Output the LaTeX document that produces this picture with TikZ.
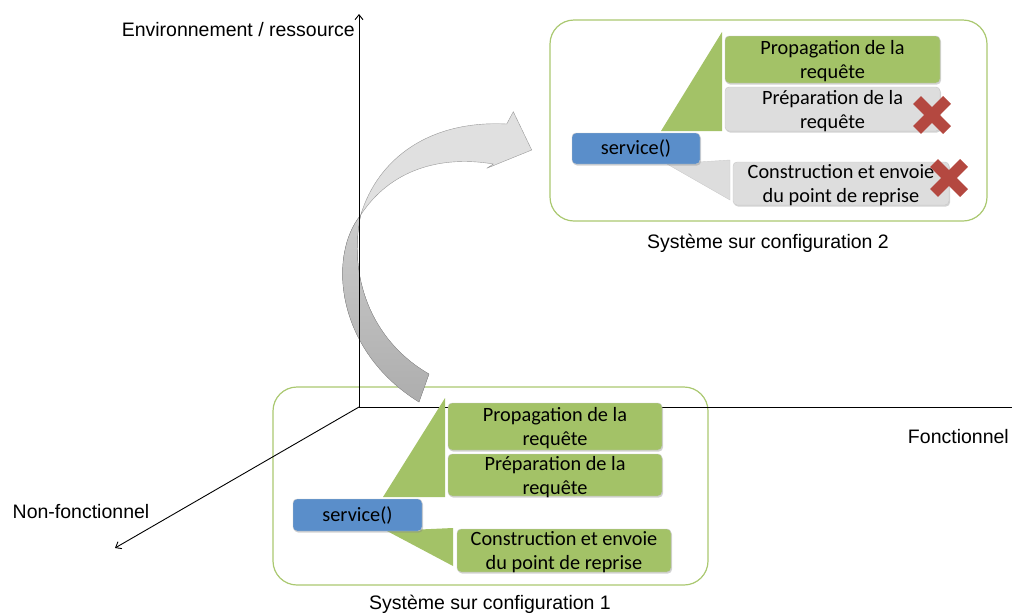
\documentclass[tikz,border=0pt]{standalone}
\usepackage{fontspec}
\setmainfont{Liberation Sans}
\newfontfamily\boxfont{Carlito}
\usetikzlibrary{shadows,arrows.meta}
\definecolor{okgreen}{RGB}{163,194,103}
\definecolor{framegreen}{RGB}{170,200,112}
\definecolor{svcblue}{RGB}{90,142,202}
\definecolor{skipgray}{RGB}{221,221,221}
\definecolor{crossred}{RGB}{180,72,64}

\tikzset{
  axis/.style={line width=0.9pt},
  axtip/.style={-{Straight Barb[length=5pt,width=8pt]}},
  axlabel/.style={inner sep=0pt, font=\fontsize{19.5}{23}\selectfont},
  cfgframe/.style={draw=framegreen, line width=1.2pt, rounded corners=24pt},
  task/.style={draw=black!22, rounded corners=4pt, inner sep=0pt, align=center,
    font=\boxfont\fontsize{20.3}{24}\selectfont,
    drop shadow={shadow xshift=1pt, shadow yshift=-1.5pt, opacity=.35}},
  done/.style={task, fill=okgreen},
  skipped/.style={task, fill=skipgray},
  svc/.style={task, fill=svcblue},
  failmark/.style={crossred, line width=11pt},
  lower/.style={text depth=-2pt},
}

\begin{document}
\begin{tikzpicture}[x=1pt,y=-1pt]
  \useasboundingbox (0,0) rectangle (1012,614);

  % frames
  \node[cfgframe, minimum width=435pt, minimum height=198pt] (frame1) at (490.5,486) {};
  \node[cfgframe, minimum width=437pt, minimum height=201pt] (frame2) at (768.5,120.5) {};
  \node[axlabel] (cfg1) at (490,604) {Système sur configuration 1};
  \node[axlabel] (cfg2) at (768,243) {Système sur configuration 2};

  % curved arrow
  \coordinate (twist) at (360.7,215);
  \coordinate (tailA) at (429,374);
  \coordinate (tailB) at (419,402);
  \filldraw[top color=black!20, bottom color=black!32, draw=black!40]
    (twist) .. controls (328,255) and (335,350) .. (tailB) -- (tailA)
    .. controls (370,340) and (348,275) .. (twist) -- cycle;
  \filldraw[fill=black!12, draw=black!40]
    (twist) .. controls (378,158) and (430,120) .. (506.7,124) -- (513.3,111.7)
    -- (531.7,150) -- (486.7,168.3) -- (493.3,164)
    .. controls (440,155) and (390,170) .. (twist) -- cycle;

  % axes
  \coordinate (origin) at (359,407);
  \coordinate (vtop) at (359,14);
  \coordinate (hend) at (1012,407);
  \coordinate (dend) at (115,548);
  \draw[axis,axtip] (origin) -- (vtop);
  \draw[axis] (origin) -- (hend);
  \draw[axis,axtip] (origin) -- (dend);
  \node[axlabel, anchor=east] (envlbl) at (355,30) {Environnement / ressource};
  \node[axlabel, anchor=east] (fctlbl) at (1009,437) {Fonctionnel};
  \node[axlabel] (nflbl) at (81,512) {Non-fonctionnel};

  % configuration 1
  \fill[okgreen] (383,497) -- (445,398) -- (445,497) -- cycle;
  \fill[okgreen] (387,531) -- (453,528) -- (453,566) -- cycle;
  \node[done, lower, minimum width=214pt, minimum height=47pt] (prop1) at (555,426.5) {Propagation de la\\requête};
  \node[done, lower, minimum width=214pt, minimum height=42pt] (prep1) at (555,475) {Préparation de la\\requête};
  \node[done, lower, minimum width=214pt, minimum height=43pt] (cons1) at (564,550.5) {Construction et envoie\\du point de reprise};
  \node[svc, minimum width=129pt, minimum height=32pt] (serv1) at (357.5,515) {service()};

  % configuration 2
  \fill[okgreen] (661,131) -- (722,32) -- (722,131) -- cycle;
  \filldraw[fill=skipgray, draw=black!20] (667,164) -- (730,160) -- (730,200) -- cycle;
  \node[done, lower, minimum width=215pt, minimum height=47pt] (prop2) at (832.5,59.5) {Propagation de la\\requête};
  \node[skipped, lower, minimum width=215pt, minimum height=44pt] (prep2) at (832.5,109) {Préparation de la\\requête};
  \node[skipped, lower, minimum width=216pt, minimum height=43pt] (cons2) at (841,183.5) {Construction et envoie\\du point de reprise};
  \node[svc, minimum width=128pt, minimum height=31pt] (serv2) at (636,148.5) {service()};
  \draw[failmark] (917,100) -- (947,130) (917,130) -- (947,100);
  \draw[failmark] (934,163) -- (964,193) (934,193) -- (964,163);
\end{tikzpicture}
\end{document}
